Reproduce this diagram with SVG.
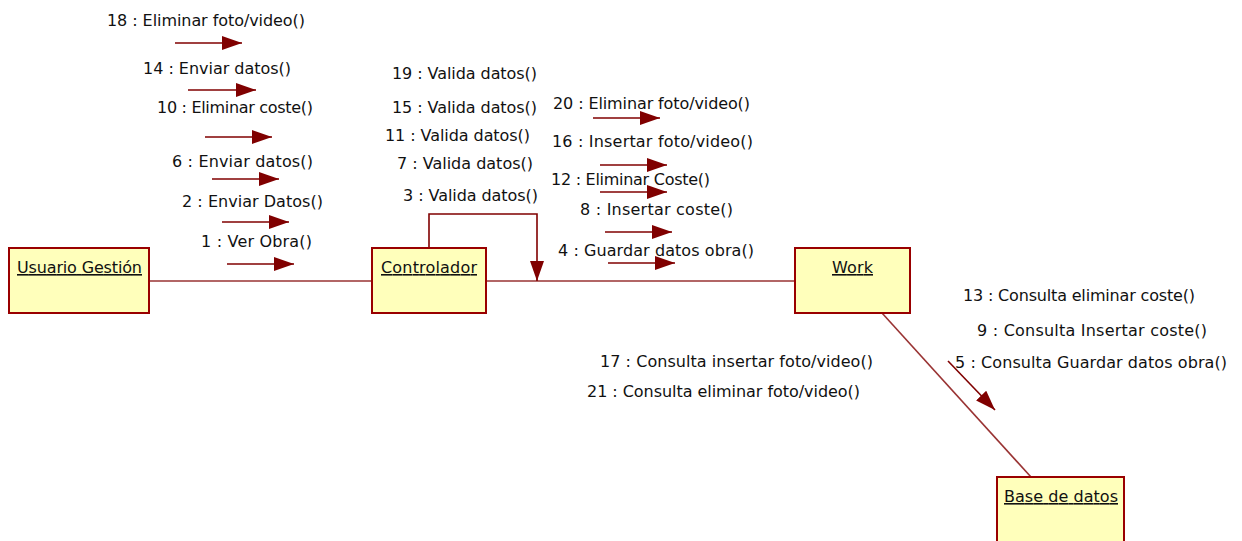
<svg xmlns="http://www.w3.org/2000/svg" width="1242" height="541" viewBox="0 0 1242 541">
<style>
.box{fill:#FFFFBB;stroke:#990000;stroke-width:2}
.conn{stroke:#993333;stroke-width:1.6;fill:none}
.msg{stroke:#800000;stroke-width:1.6;fill:none;marker-end:url(#ah)}
text{font-family:"DejaVu Sans","Liberation Sans",sans-serif;font-size:16px;fill:#111}
.nm{text-decoration:underline}
</style>
<defs>
<marker id="ah" markerUnits="userSpaceOnUse" markerWidth="20" markerHeight="14" refX="20" refY="7" orient="auto">
<path d="M0,0 L20,7 L0,14 z" fill="#800000"/>
</marker>
</defs>
<rect width="1242" height="541" fill="#fff"/>
<g id="connectors">
<line class="conn" x1="149" y1="281" x2="372" y2="281"/>
<line class="conn" x1="486" y1="281" x2="795" y2="281"/>
<line class="conn" x1="882" y1="313" x2="1031" y2="477" stroke-width="1.2"/>
<polyline class="msg" points="429,248 429,214 537,214 537,281"/>
<line class="msg" x1="175" y1="43" x2="242" y2="43"/>
<line class="msg" x1="188" y1="90" x2="256" y2="90"/>
<line class="msg" x1="205" y1="137" x2="272" y2="137"/>
<line class="msg" x1="212" y1="179" x2="279" y2="179"/>
<line class="msg" x1="222" y1="222" x2="289" y2="222"/>
<line class="msg" x1="227" y1="264" x2="294" y2="264"/>
<line class="msg" x1="593" y1="118" x2="660" y2="118"/>
<line class="msg" x1="600" y1="165" x2="667" y2="165"/>
<line class="msg" x1="600" y1="192" x2="667" y2="192"/>
<line class="msg" x1="605" y1="232" x2="672" y2="232"/>
<line class="msg" x1="608" y1="263" x2="675" y2="263"/>
<line class="msg" x1="948" y1="361" x2="995" y2="410"/>
</g>
<g id="labels">
<text x="107" y="26" textLength="198">18 : Eliminar foto/video()</text>
<text x="143" y="74" textLength="148">14 : Enviar datos()</text>
<text x="157" y="113" textLength="156">10 : Eliminar coste()</text>
<text x="172" y="167" textLength="141">6 : Enviar datos()</text>
<text x="182" y="207" textLength="141">2 : Enviar Datos()</text>
<text x="201" y="247" textLength="111">1 : Ver Obra()</text>
<text x="392" y="79" textLength="145">19 : Valida datos()</text>
<text x="392" y="113" textLength="145">15 : Valida datos()</text>
<text x="385" y="141" textLength="145">11 : Valida datos()</text>
<text x="397" y="169" textLength="136">7 : Valida datos()</text>
<text x="403" y="201" textLength="135">3 : Valida datos()</text>
<text x="553" y="109" textLength="197">20 : Eliminar foto/video()</text>
<text x="552" y="147" textLength="201">16 : Insertar foto/video()</text>
<text x="551" y="185" textLength="159">12 : Eliminar Coste()</text>
<text x="580" y="215" textLength="153">8 : Insertar coste()</text>
<text x="558" y="256" textLength="196">4 : Guardar datos obra()</text>
<text x="963" y="301" textLength="232">13 : Consulta eliminar coste()</text>
<text x="977" y="336" textLength="230">9 : Consulta Insertar coste()</text>
<text x="955" y="368" textLength="272">5 : Consulta Guardar datos obra()</text>
<text x="600" y="367" textLength="273">17 : Consulta insertar foto/video()</text>
<text x="587" y="397" textLength="273">21 : Consulta eliminar foto/video()</text>
</g>
<g id="usuario">
<rect class="box" x="9" y="248" width="140" height="65"/>
<text class="nm" x="17" y="273" textLength="125">Usuario Gestión</text>
</g>
<g id="controlador">
<rect class="box" x="372" y="248" width="114" height="65"/>
<text class="nm" x="381" y="273" textLength="96">Controlador</text>
</g>
<g id="work">
<rect class="box" x="795" y="248" width="115" height="65"/>
<text class="nm" x="832" y="273" textLength="41">Work</text>
</g>
<g id="basedatos">
<rect class="box" x="997" y="477" width="127" height="70"/>
<text class="nm" x="1004" y="502" textLength="114">Base de datos</text>
</g>
</svg>
